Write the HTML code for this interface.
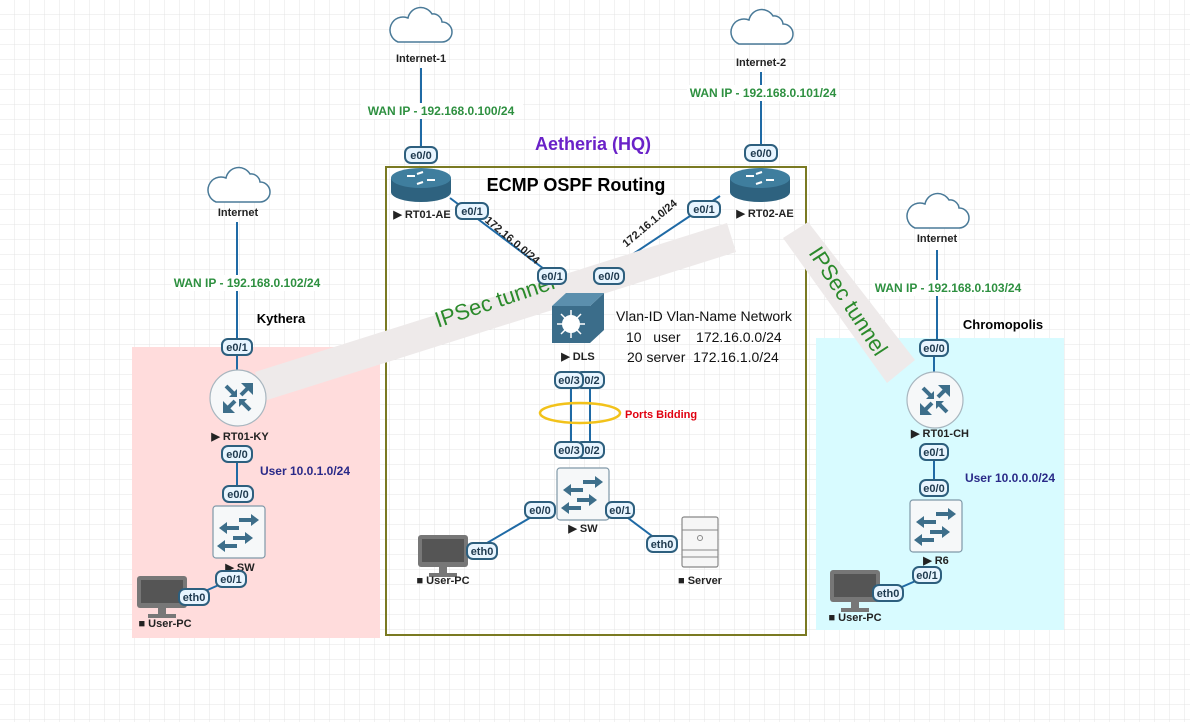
<!DOCTYPE html>
<html><head><meta charset="utf-8"><style>
html,body{margin:0;padding:0;background:#fff}
svg{display:block}
text{font-family:"Liberation Sans",Arial,sans-serif}
.p rect{fill:#e8f5ff;stroke:#2d5f7e;stroke-width:2}
.p text{font-size:11px;font-weight:bold;fill:#1f3a4f;text-anchor:middle}
.lbl{font-size:11px;font-weight:bold;fill:#222;text-anchor:middle}
.wan{font-size:12px;font-weight:bold;fill:#2e9040;text-anchor:middle}
.ln{stroke:#1f6aa5;stroke-width:2;fill:none}
.pre{white-space:pre}
</style></head><body>
<svg width="1190" height="722" viewBox="0 0 1190 722" xmlns="http://www.w3.org/2000/svg">
<defs>
<pattern id="g" width="15" height="15" patternUnits="userSpaceOnUse"><path d="M15 0V15H0" fill="none" stroke="#e4e4e4" stroke-width="1"/></pattern>
<g id="cloud"><path d="M-22 12 h44 a10 10 0 0 0 0-20 a9 9 0 0 0 -10-8 a13 13 0 0 0 -24 4 a10 10 0 0 0 -10 24z" fill="#fff" stroke="#4a7a98" stroke-width="1.5"/></g>
<g id="rtr"><path d="M-30 -8 v14 a30 10 0 0 0 60 0 v-14" fill="#2e627f"/><ellipse cx="0" cy="-8" rx="30" ry="10" fill="#3f7e9e"/><path d="M-14 -10 h8 M6 -6 h8 M-4 -12 l6-2 M2 -4 l-6 2" stroke="#fff" stroke-width="2"/></g>
<g id="rc"><circle r="28" fill="#f6f8f9" stroke="#a8b6bf" stroke-width="1.2"/><g stroke="#3d6e8a" stroke-width="4" fill="#3d6e8a"><path d="M-12 -12 l9 9"/><path d="M12 -12 l-9 9"/><path d="M-12 12 l9 -9"/><path d="M12 12 l-9 -9"/></g><path d="M-1-1 l-8 0 8-8z M3 -15 l12 0 0 12z M-15 3 l0 12 12 0z M1 1 l8 0 -8 8z" fill="#3d6e8a"/></g>
<g id="sw"><rect x="0" y="0" width="52" height="52" rx="3" fill="#f6f8f9" stroke="#7f98a8" stroke-width="1.2"/><g fill="#3d6e8a"><path d="M26 12h12v-4l8 6-8 6v-4h-12z"/><path d="M26 20h-12v-4l-8 6 8 6v-4h12z"/><path d="M20 30h12v-4l8 6-8 6v-4h-12z"/><path d="M24 38h-12v-4l-8 6 8 6v-4h12z"/></g></g>
<g id="pc"><rect x="0" y="0" width="50" height="32" rx="3" fill="#777"/><rect x="4" y="4" width="42" height="23" fill="#555"/><rect x="21" y="32" width="8" height="6" fill="#777"/><rect x="11" y="38" width="28" height="4" fill="#777"/></g>
</defs>
<rect width="1190" height="722" fill="url(#g)"/>

<rect x="132" y="347" width="248" height="291" fill="#ffdcdc"/>
<rect x="816" y="338" width="248" height="292" fill="#d8fbff"/>
<rect x="386" y="167" width="420" height="468" fill="none" stroke="#7a7a22" stroke-width="2"/>

<path class="ln" d="M421 68V150 M761 72V150 M237 222V342 M937 250V342 M450 198L548 272 M720 196L606 272 M571 386V444 M590 386V444 M237 356V370 M237 462V488 M934 356V372 M934 460V482 M540 512L475 550 M620 512L664 545 M230 580L194 596 M927 576L888 593"/>

<polygon points="255,372 727,223 736,252 264,401" fill="#eeeaea"/>
<polygon points="783,238 808,222 915,360 887,383" fill="#eeeaea"/>
<text x="497" y="308" transform="rotate(-18.5 497 308)" font-size="22" fill="#2b8a2b" text-anchor="middle">IPSec tunnel</text>
<text x="842" y="305" transform="rotate(57 842 305)" font-size="22" fill="#2b8a2b" text-anchor="middle">IPSec tunnel</text>

<use href="#cloud" x="420" y="30"/><text x="421" y="62" class="lbl">Internet-1</text>
<use href="#cloud" x="761" y="32"/><text x="761" y="66" class="lbl">Internet-2</text>
<use href="#cloud" x="238" y="190"/><text x="238" y="216" class="lbl">Internet</text>
<use href="#cloud" x="937" y="216"/><text x="937" y="242" class="lbl">Internet</text>

<rect x="361" y="103" width="162" height="16" fill="#fff"/><text x="441" y="115" class="wan">WAN IP - 192.168.0.100/24</text>
<rect x="687" y="85" width="152" height="16" fill="#fff"/><text x="763" y="97" class="wan">WAN IP - 192.168.0.101/24</text>
<rect x="171" y="275" width="152" height="16" fill="#fff"/><text x="247" y="287" class="wan">WAN IP - 192.168.0.102/24</text>
<rect x="872" y="280" width="152" height="16" fill="#fff"/><text x="948" y="292" class="wan">WAN IP - 192.168.0.103/24</text>

<text x="593" y="150" font-size="18" font-weight="bold" fill="#6a22c8" text-anchor="middle">Aetheria (HQ)</text>
<text x="576" y="191" font-size="18" font-weight="bold" fill="#000" text-anchor="middle">ECMP OSPF Routing</text>
<text x="281" y="323" font-size="13" font-weight="bold" fill="#000" text-anchor="middle">Kythera</text>
<text x="1003" y="329" font-size="13" font-weight="bold" fill="#000" text-anchor="middle">Chromopolis</text>

<use href="#rtr" x="421" y="186"/><text x="422" y="218" class="lbl">▶ RT01-AE</text>
<use href="#rtr" x="760" y="186"/><text x="765" y="217" class="lbl">▶ RT02-AE</text>
<text x="510" y="243" transform="rotate(40 510 243)" class="lbl" fill="#000">172.16.0.0/24</text>
<text x="652" y="226" transform="rotate(-40 652 226)" class="lbl" fill="#000">172.16.1.0/24</text>

<polygon points="552,306 590,306 604,293 604,330 590,343 552,343" fill="#3b6d8a"/>
<polygon points="552,306 566,293 604,293 590,306" fill="#5b8fad"/>
<circle cx="571" cy="324" r="9" fill="#fff"/>
<g stroke="#fff" stroke-width="1.5"><path d="M571 310V338 M557 324H585 M561 314L581 334 M581 314L561 334"/></g>
<text x="578" y="360" class="lbl">▶ DLS</text>
<text x="616" y="321" font-size="14" fill="#111" class="pre">Vlan-ID Vlan-Name Network</text>
<text x="626" y="342" font-size="14" fill="#111" class="pre">10   user    172.16.0.0/24</text>
<text x="627" y="362" font-size="14" fill="#111" class="pre">20 server  172.16.1.0/24</text>

<ellipse cx="580" cy="413" rx="40" ry="10" fill="none" stroke="#f2c21a" stroke-width="2.5"/>
<text x="625" y="418" font-size="11" font-weight="bold" fill="#e00010">Ports Bidding</text>

<use href="#sw" x="557" y="468"/><text x="583" y="532" class="lbl">▶ SW</text>
<use href="#pc" x="418" y="535"/><text x="443" y="584" class="lbl">■ User-PC</text>
<g><rect x="682" y="517" width="36" height="50" rx="2" fill="#f6f6f6" stroke="#888" stroke-width="1.2"/><path d="M682 550H718 M682 557H718 M682 530H718" stroke="#888"/><circle cx="700" cy="538" r="2.5" fill="none" stroke="#888"/></g>
<text x="700" y="584" class="lbl">■ Server</text>

<use href="#rc" x="238" y="398"/><text x="240" y="440" class="lbl">▶ RT01-KY</text>
<text x="305" y="475" font-size="12" font-weight="bold" fill="#2a2a88" text-anchor="middle">User 10.0.1.0/24</text>
<use href="#sw" x="213" y="506"/><text x="240" y="571" class="lbl">▶ SW</text>
<use href="#pc" x="137" y="576"/><text x="165" y="627" class="lbl">■ User-PC</text>

<use href="#rc" x="935" y="400"/><text x="940" y="437" class="lbl">▶ RT01-CH</text>
<text x="1010" y="482" font-size="12" font-weight="bold" fill="#2a2a88" text-anchor="middle">User 10.0.0.0/24</text>
<use href="#sw" x="910" y="500"/><text x="936" y="564" class="lbl">▶ R6</text>
<use href="#pc" x="830" y="570"/><text x="855" y="621" class="lbl">■ User-PC</text>

<g class="p">
<rect x="405" y="147" width="32" height="16" rx="6"/><text x="421" y="159">e0/0</text>
<rect x="745" y="145" width="32" height="16" rx="6"/><text x="761" y="157">e0/0</text>
<rect x="456" y="203" width="32" height="16" rx="6"/><text x="472" y="215">e0/1</text>
<rect x="688" y="201" width="32" height="16" rx="6"/><text x="704" y="213">e0/1</text>
<rect x="538" y="268" width="28" height="16" rx="6"/><text x="552" y="280">e0/1</text>
<rect x="594" y="268" width="30" height="16" rx="6"/><text x="609" y="280">e0/0</text>
<rect x="576" y="372" width="28" height="16" rx="6"/><text x="592" y="384">0/2</text>
<rect x="555" y="372" width="28" height="16" rx="6"/><text x="569" y="384">e0/3</text>
<rect x="576" y="442" width="28" height="16" rx="6"/><text x="592" y="454">0/2</text>
<rect x="555" y="442" width="28" height="16" rx="6"/><text x="569" y="454">e0/3</text>
<rect x="525" y="502" width="30" height="16" rx="6"/><text x="540" y="514">e0/0</text>
<rect x="606" y="502" width="28" height="16" rx="6"/><text x="620" y="514">e0/1</text>
<rect x="467" y="543" width="30" height="16" rx="6"/><text x="482" y="555">eth0</text>
<rect x="647" y="536" width="30" height="16" rx="6"/><text x="662" y="548">eth0</text>
<rect x="222" y="339" width="30" height="16" rx="6"/><text x="237" y="351">e0/1</text>
<rect x="222" y="446" width="30" height="16" rx="6"/><text x="237" y="458">e0/0</text>
<rect x="223" y="486" width="30" height="16" rx="6"/><text x="238" y="498">e0/0</text>
<rect x="216" y="571" width="30" height="16" rx="6"/><text x="231" y="583">e0/1</text>
<rect x="179" y="589" width="30" height="16" rx="6"/><text x="194" y="601">eth0</text>
<rect x="920" y="340" width="28" height="16" rx="6"/><text x="934" y="352">e0/0</text>
<rect x="920" y="444" width="28" height="16" rx="6"/><text x="934" y="456">e0/1</text>
<rect x="920" y="480" width="28" height="16" rx="6"/><text x="934" y="492">e0/0</text>
<rect x="913" y="567" width="28" height="16" rx="6"/><text x="927" y="579">e0/1</text>
<rect x="873" y="585" width="30" height="16" rx="6"/><text x="888" y="597">eth0</text>
</g>
</svg>
</body></html>
